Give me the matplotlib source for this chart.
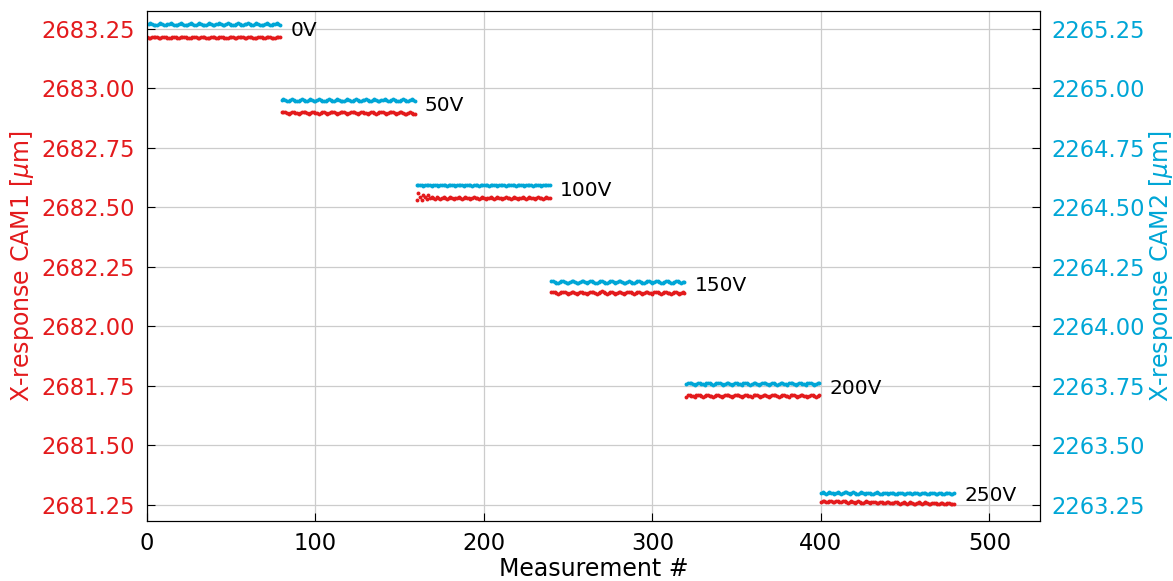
"""X-response of CAM1 / CAM2 for successive voltage steps."""
import numpy as np
import matplotlib
matplotlib.use("Agg")
import matplotlib.pyplot as plt

# ---------------------------------------------------------------------------
# data: mean level per voltage step [um] + per-measurement deviation [nm]
# ---------------------------------------------------------------------------
voltages = ["0V", "50V", "100V", "150V", "200V", "250V"]
n_per_step = 80

red_level = [2683.213, 2682.897, 2682.538, 2682.141, 2681.708, 2681.2585]
cyan_level = [2265.268, 2264.949, 2264.592, 2264.186, 2263.758, 2263.298]

red_0v = [1, -3, -4, 0, 3, 4, 0, -3, -4, 1,
          4, 3, -1, -4, -3, 1, 4, 1, -3, -4,
          0, 3, 4, 1, -3, -4, -1, 3, 4, 0,
          -4, -3, 1, 4, 3, -1, -4, -1, 1, 3,
          0, -3, -4, 0, 4, 3, -1, -4, -1, 3,
          4, 1, -3, -4, 0, 3, 4, 0, -3, -4,
          1, 4, 3, -1, -4, -3, 1, 4, 1, -3,
          -4, 0, 4, 3, -1, -4, -1, 3, 4, 1]
cyan_0v = [0, 3, 4, 1, -3, -4, -1, 3, 4, 0,
           -3, -4, 0, 3, 4, 1, -1, -4, -3, 1,
           4, 3, -1, -4, -1, 3, 4, 0, -3, -4,
           0, 4, 3, -1, -4, -3, 1, 4, 1, -3,
           -4, 0, 3, 4, 0, -3, -4, 1, 4, 3,
           -1, -4, -1, 3, 4, 1, -3, -4, 0, 3,
           4, 0, -3, -4, 1, 4, 3, -1, -4, -1,
           3, 4, 0, -3, -4, 0, 3, 4, 1, -3]

red_50v = [2, 4, 1, -3, -4, 0, 3, 4, 0, -3,
           -4, -1, 3, 4, 1, -3, -4, 0, 3, 3,
           0, -3, -4, 0, 4, 3, -1, -4, -3, 1,
           4, 3, -1, -4, -2, 2, 4, 2, -2, -4,
           -1, 3, 4, 1, -3, -4, 0, 3, 4, 0,
           -3, -4, 0, 3, 3, -1, -4, -3, 1, 3,
           2, -2, -5, -3, 1, 3, 1, -3, -5, -2,
           2, 2, -1, -4, -4, 0, 1, -1, -5, -6]
cyan_50v = [1, 4, 3, -2, -4, 0, 4, 3, -1, -4,
            -1, 3, 4, 0, -4, -3, 1, 4, 1, -3,
            -4, 0, 4, 3, -1, -4, -1, 3, 4, 0,
            -3, -4, 1, 4, 3, -1, -4, -1, 3, 4,
            1, -3, -4, 0, 4, 3, -1, -4, 0, 3,
            4, 0, -4, -3, 1, 4, 1, -3, -4, 0,
            3, 4, 0, -3, -4, 1, 4, 3, -1, -4,
            -1, 3, 4, 0, -4, -3, 1, 4, 1, -1]

red_100v = [-8, 22, 3, -6, 15, 4, -5, 12, 2, 6,
            1, -2, 3, 0, -3, 1, 3, -1, -3, 1,
            3, 0, -3, -1, 1, 3, 0, -3, -1, 3,
            1, -1, -3, 0, 3, 1, -1, -3, 1, 3,
            0, -3, -1, 1, 3, 0, -3, 0, 3, 1,
            -1, -3, 0, 3, 1, -1, -3, 1, 3, 0,
            -3, -1, 1, 3, 0, -3, -1, 3, 1, -1,
            -3, 0, 3, 1, -1, -3, 0, 3, 1, -1]
cyan_100v = [0, 3, 1, -1, -3, 0, 3, 1, -1, -3,
             1, 3, 0, -3, -1, 1, 3, 0, -3, -1,
             3, 1, -1, -3, 0, 3, 1, -1, -3, 0,
             3, 0, -1, -3, 1, 3, 0, -3, -1, 1,
             3, 1, -1, -3, 0, 1, 3, 0, -3, -1,
             1, 3, 0, -3, -1, 1, 3, 1, -1, -3,
             0, 3, 1, -1, -3, 0, 3, 1, -1, -3,
             1, 3, 0, -1, -3, 0, 3, 1, -1, -1]

red_150v = [1, 4, 3, -1, -4, -3, 1, 4, 1, -3,
            -4, 0, 4, 3, -1, -5, -1, 3, 4, 0,
            -3, -4, 0, 3, 4, 1, -3, -5, -1, 4,
            5, 1, -3, -4, 0, 4, 3, -1, -4, -1,
            3, 4, 0, -4, -3, 1, 4, 1, -3, -4,
            0, 4, 3, -1, -4, -1, 3, 4, 0, -3,
            -4, 1, 4, 3, -1, -4, -1, 3, 4, 0,
            -3, -4, 0, 4, 3, -1, -4, -3, 1, 0]
cyan_150v = [3, 4, 0, -3, -4, 0, 3, 4, 1, -3,
             -4, -1, 3, 4, 0, -3, -4, 1, 4, 3,
             -1, -4, -1, 3, 4, 1, -3, -4, 0, 3,
             4, 0, -3, -4, 1, 4, 3, -1, -4, -1,
             3, 4, 0, -4, -3, 1, 4, 1, -3, -4,
             0, 3, 4, 0, -3, -4, 1, 4, 3, -1,
             -4, -1, 3, 4, 1, -3, -4, 0, 3, 4,
             0, -3, -4, 1, 4, 3, -1, -4, -1, 1]

red_200v = [-7, 3, 4, 0, -3, -4, 1, 4, 3, -1,
            -4, -1, 3, 4, 0, -3, -4, 0, 3, 3,
            -1, -4, -3, 1, 4, 1, -3, -4, 0, 3,
            4, 1, -3, -4, -1, 3, 4, 0, -3, -4,
            1, 4, 3, -1, -4, -1, 3, 4, 0, -4,
            -3, 1, 4, 1, -3, -4, 0, 3, 4, 0,
            -3, -4, 1, 4, 3, -1, -4, -1, 3, 4,
            0, -3, -4, 0, 4, 3, -1, -4, -1, 1]
cyan_200v = [0, 3, 4, 1, -3, -4, 0, 3, 4, 0,
             -3, -4, 1, 4, 3, -1, -4, -1, 3, 4,
             1, -3, -4, 0, 4, 3, -1, -4, -1, 3,
             4, 0, -3, -4, 1, 4, 3, -1, -4, -1,
             3, 4, 0, -4, -3, 1, 5, 1, -3, -5,
             0, 4, 3, -1, -4, -1, 3, 4, 0, -3,
             -4, 1, 4, 3, -1, -4, -1, 3, 4, 0,
             -3, -4, 1, 4, 3, -1, -4, 0, 3, 4]

red_250v = [4, 8, 5, 1, 4, 8, 6, 2, 4, 7,
            5, 1, 3, 7, 5, 1, 0, 2, 6, 4,
            0, 2, 6, 4, 0, -1, 3, 5, 1, -2,
            1, 4, 2, -2, 0, 4, 2, -2, -3, 1,
            3, 0, -3, -1, 3, 1, -3, -4, 0, 2,
            -1, -4, -2, 2, 0, -4, -5, -1, 1, -2,
            -5, -3, 1, -1, -5, -6, -2, 0, -3, -6,
            -4, 0, -2, -6, -7, -3, -1, -4, -7, -5]
cyan_250v = [2, 4, 1, -2, 0, 4, 2, -1, -2, 2,
             4, 1, -2, 0, 3, 4, 0, -2, 1, 3,
             1, -2, -2, 1, 3, 0, -3, -1, 2, 1,
             -2, -3, 0, 3, 1, -2, -3, 0, 2, 0,
             -3, -1, 2, 1, -2, -3, 0, 2, 0, -3,
             -2, 1, 2, -1, -3, -1, 2, 0, -2, -4,
             -1, 2, 0, -3, -4, -1, 1, -1, -4, -2,
             1, 0, -3, -4, -1, 1, -1, -4, -2, -1]

red_dev = [red_0v, red_50v, red_100v, red_150v, red_200v, red_250v]
cyan_dev = [cyan_0v, cyan_50v, cyan_100v, cyan_150v, cyan_200v, cyan_250v]

RED = "#e31a1c"
CYAN = "#00a6d6"


def plot_response(output_path: str) -> None:
    plt.rcParams["font.family"] = "DejaVu Sans"
    fig = plt.figure(figsize=(11.73, 5.81), dpi=100)
    ax = fig.add_axes([0.1253, 0.104, 0.7613, 0.877])
    ax2 = ax.twinx()

    for i, label in enumerate(voltages):
        start = i * n_per_step
        r = red_level[i] + np.asarray(red_dev[i]) * 1e-3
        c = cyan_level[i] + np.asarray(cyan_dev[i]) * 1e-3
        ax.plot(start + np.arange(len(r)), r, "o", color=RED, ms=2.8, mew=0)
        ax2.plot(start + np.arange(len(c)), c, "o", color=CYAN, ms=2.8, mew=0)
        # voltage label just right of each step, between the two traces
        ax.text(start + n_per_step + 5, red_level[i] + 0.03, label,
                fontsize=14.5, va="center", ha="left")

    ax.set_xlim(0, 530)
    ylo, yhi = 2681.183, 2683.324
    ax.set_ylim(ylo, yhi)
    ax2.set_ylim(ylo - 418.0, yhi - 418.0)

    ax.set_yticks(np.arange(2681.25, 2683.3, 0.25))
    ax2.set_yticks(np.arange(2263.25, 2265.3, 0.25))
    ax.yaxis.set_major_formatter(matplotlib.ticker.FormatStrFormatter("%.2f"))
    ax2.yaxis.set_major_formatter(matplotlib.ticker.FormatStrFormatter("%.2f"))

    ax.tick_params(axis="both", direction="in", length=6, labelsize=16.3, pad=8.5)
    ax.tick_params(axis="y", labelcolor=RED)
    ax2.tick_params(axis="y", direction="in", length=6, labelsize=16.3,
                    labelcolor=CYAN, pad=8.5)

    ax.set_xlabel("Measurement #", fontsize=17, labelpad=1)
    ax.set_ylabel(r"X-response CAM1 [$\mu$m]", fontsize=17, color=RED,
                  labelpad=4)
    ax2.set_ylabel(r"X-response CAM2 [$\mu$m]", fontsize=17, color=CYAN,
                   labelpad=1)

    ax.grid(True, color="#cccccc", linewidth=0.9)
    ax.set_axisbelow(True)

    fig.savefig(output_path, dpi=100)
    plt.close(fig)


if __name__ == "__main__":
    plot_response("out.png")
